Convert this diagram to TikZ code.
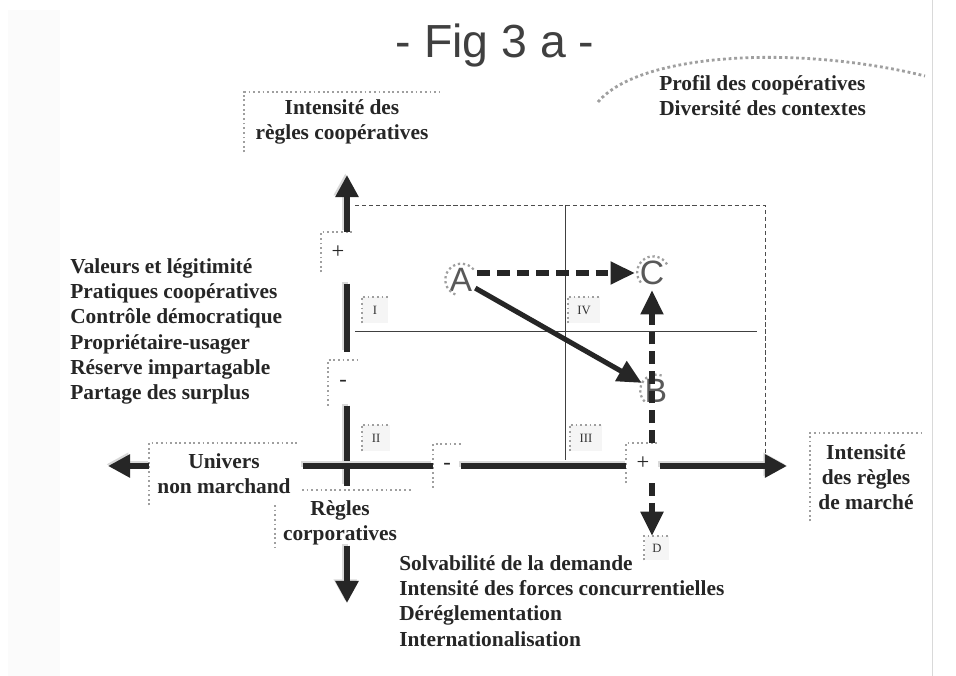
\documentclass[tikz,border=0pt]{standalone}
\usepackage{fontspec}
\setmainfont{Liberation Serif}
\newfontfamily\handfont{Liberation Sans}
\usetikzlibrary{arrows.meta}
\tikzset{x=0.025cm, y=-0.025cm}
\tikzset{
  lbl/.style={font=\bfseries\fontsize{15.2}{18}\selectfont, text=black!85, align=center, inner sep=0pt},
  lst/.style={lbl, align=left, anchor=north west},
  halo/.style={draw=gray!75, dotted, line width=1.3pt},
  sign/.style={font=\fontsize{16}{16}\selectfont, text=black!85, inner sep=0pt},
  quad/.style={font=\fontsize{9}{9}\selectfont, text=black!80, fill=gray!8, inner sep=0pt,
    minimum height=0.65cm},
  letter/.style={circle, inner sep=0pt, minimum size=0.8cm, text=gray!70!black,
    font=\handfont\fontsize{24}{24}\selectfont},
  bar/.style={line width=4.3pt, black!85,
    preaction={draw=gray!30, line width=4.3pt, transform canvas={shift={(-1.2pt,1.2pt)}}}},
  tip/.style={-{Triangle[length=0.55cm, width=0.55cm]}},
  frame/.style={draw=black!70, line width=0.5pt, dash pattern=on 3pt off 2pt},
  grid/.style={draw=black!75, line width=0.6pt},
  move/.style={line width=3.6pt, black!85, -{Triangle[length=0.6cm, width=0.55cm]}},
  dashmove/.style={move, dash pattern=on 9pt off 5pt}
}
% dotted corner round a box (top and left sides)
\newcommand{\corner}[1]{\draw[halo] (#1.south west) |- (#1.north east);}

\begin{document}
\begin{tikzpicture}
\useasboundingbox (0,0) rectangle (956,676);
% scanned sheet
\fill[white] (0,0) rectangle (956,676);
\fill[gray!3] (8,10) rectangle (60,676);
\draw[gray!30] (932,0) -- (932,676);

% title
\node[font=\handfont\fontsize{33}{33}\selectfont, text=gray!50!black] (fig) at (495,46) {- Fig 3 a -};
\node[lbl, align=left, anchor=north west] (profil) at (659,75) {Profil des coopératives\\Diversité des contextes};
\draw[halo, line width=2pt] (598,102) .. controls (640,52) and (800,45) .. (925,76);

% quadrant frame
\draw[frame] (355,205) -| (765,460);
\draw[grid] (565,205) -- (565,460);
\draw[grid] (355,331) -- (757,331);

% boxes with dotted corners
\node[lbl, minimum width=4.875cm, minimum height=1.5cm] (coop) at (342,122) {Intensité des\\règles coopératives};
\node[lbl, minimum width=3.725cm, minimum height=1.55cm] (univ) at (224,474) {Univers\\non marchand};
\node[lbl, minimum width=2.8cm, minimum height=2.2cm] (marche) at (866,477) {Intensité\\des règles\\de marché};
\node[lbl] (corp) at (340,523) {Règles\\corporatives};
\corner{coop}
\corner{univ}
\corner{marche}
\draw[halo] (302,490) -- (412,490);
\draw[halo] (275,505) -- (275,548);

\node[sign, minimum width=0.82cm, minimum height=1cm] (plusV) at (338,252) {+};
\node[sign, minimum width=0.75cm, minimum height=1.12cm] (minusV) at (343,383) {-};
\node[sign, minimum width=0.68cm, minimum height=1.08cm] (minusH) at (447,466) {-};
\node[sign, minimum width=0.82cm, minimum height=1cm] (plusH) at (643,463) {+};
\corner{plusV}
\corner{minusV}
\corner{minusH}
\corner{plusH}

\node[quad, minimum width=0.65cm] (q1) at (375,310) {I};
\node[quad, minimum width=0.8cm] (q4) at (584,310) {IV};
\node[quad, minimum width=0.7cm] (q2) at (376,438) {II};
\node[quad, minimum width=0.8cm] (q3) at (586,438) {III};
\node[quad, minimum width=0.62cm, minimum height=0.6cm] (D) at (657,548) {D};
\corner{q1}
\corner{q4}
\corner{q2}
\corner{q3}
\corner{D}

% axes
\coordinate (vtop) at (347,175);
\coordinate (vbot) at (347,486);
\coordinate (hleft) at (303,466);
\coordinate (hright) at (787,466);
\coordinate (wtip) at (108,466);
\coordinate (stip) at (347,603);
\draw[bar, tip] (plusV.north -| vtop) -- (vtop);
\draw[bar, shorten <=8pt, shorten >=6pt] (plusV.south -| vtop) -- (minusV.north -| vtop);
\draw[bar] (minusV.south -| vtop) -- (vbot);
\draw[bar] (hleft) -- (minusH.west |- hleft);
\draw[bar] (minusH.east |- hleft) -- (plusH.west |- hleft);
\draw[bar, tip] (plusH.east |- hleft) -- (hright);
\draw[bar, tip] (univ.west |- hleft) -- (wtip);
\draw[bar, tip] (corp.south -| vtop) -- (stip);

% the three profiles
\node[letter] (A) at (461,280) {A};
\node[letter] (C) at (652,273) {C};
\node[letter] (B) at (656,391) {B};
\draw[halo, line width=1.6pt] (A.40) arc[start angle=40, end angle=250, radius=0.4cm];
\draw[halo, line width=1.6pt] (C.30) arc[start angle=30, end angle=220, radius=0.4cm];
\draw[halo, line width=1.6pt] (B.70) arc[start angle=70, end angle=230, radius=0.4cm];
\draw[dashmove] (A.east |- C) -- (C);
\draw[move] (A) -- (B);
\draw[dashmove] (plusH.north -| C) -- (C);
\draw[dashmove] (plusH.south -| C) -- (D.north -| C);

% lists
\node[lst] (valeurs) at (70,258) {Valeurs et légitimité\\Pratiques coopératives\\Contrôle démocratique\\Propriétaire-usager\\Réserve impartagable\\Partage des surplus};
\node[lst] (forces) at (399,555) {Solvabilité de la demande\\Intensité des forces concurrentielles\\Déréglementation\\Internationalisation};
\end{tikzpicture}
\end{document}
